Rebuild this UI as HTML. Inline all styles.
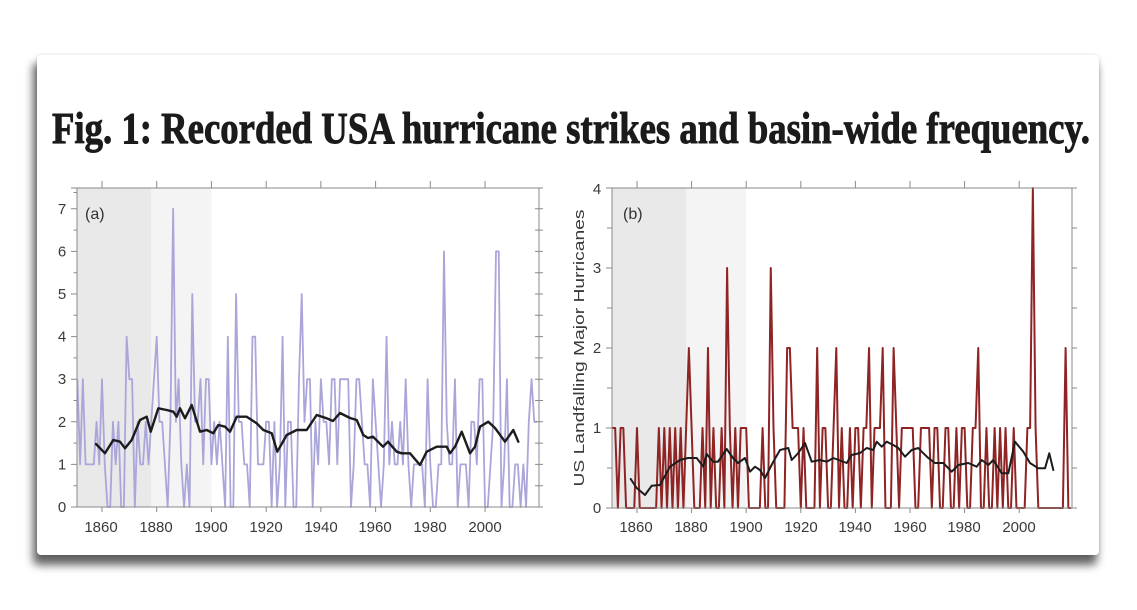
<!DOCTYPE html>
<html>
<head>
<meta charset="utf-8">
<style>
  html, body { margin:0; padding:0; background:#ffffff; }
  body { width:1137px; height:610px; position:relative; overflow:hidden; }
  .card {
    position:absolute; left:37px; top:55px; width:1062px; height:500px;
    background:#ffffff; border-radius:4px;
    box-shadow: -3px 9px 9px 1px rgba(0,0,0,0.62), 0 0 3px rgba(0,0,0,0.12);
  }
  svg { position:absolute; left:0; top:0; }
  text { font-family: "Liberation Sans", "DejaVu Sans", sans-serif; }
</style>
</head>
<body>
<div class="card"></div>
<svg width="1137" height="610" viewBox="0 0 1137 610" xmlns="http://www.w3.org/2000/svg">
  <!-- Title -->
  <text x="52" y="143" font-weight="bold" font-size="44" fill="#1b1b1b" stroke="#1b1b1b" stroke-width="0.9" textLength="1038" lengthAdjust="spacingAndGlyphs" style="font-family:'Liberation Serif', serif">Fig. 1: Recorded USA hurricane strikes and basin-wide frequency.</text>

  <!-- ================= PANEL A ================= -->
  <rect x="77" y="188" width="74" height="319" fill="#e9e9e9"/>
  <rect x="151" y="188" width="60.4" height="319" fill="#f4f4f4"/>

  <!-- purple series -->
  <g transform="translate(77.38,507) scale(2.736,-42.6)">
    <polyline fill="none" stroke="#aaa6da" stroke-width="1.8" vector-effect="non-scaling-stroke" stroke-linejoin="round"
      points="0,3 1,1 2,3 3,1 4,1 5,1 6,1 7,2 8,1 9,3
      10,1 11,0 12,0 13,2 14,1 15,2 16,0 17,0 18,4 19,3
      20,3 21,0 22,2 23,1 24,1 25,2 26,1 27,2 28,3 29,4
      30,2 31,2 32,1 33,0 34,2 35,7 36,2 37,3 38,1 39,0
      40,1 41,0 42,5 43,2 44,2 45,3 46,1 47,3 48,3 49,1
      50,2 51,1 52,2 53,1 54,0 55,4 56,0 57,0 58,5 59,2
      60,2 61,1 62,1 63,0 64,4 65,4 66,1 67,1 68,1 69,2
      70,2 71,0 72,2 73,0 74,1 75,4 76,0 77,2 78,2 79,0
      80,0 81,3 82,5 83,2 84,3 85,3 86,0 87,2 88,1 89,3
      90,2 91,2 92,1 93,3 94,3 95,1 96,3 97,3 98,3 99,3
      100,0 101,1 102,3 103,3 104,2 105,1 106,1 107,0 108,3 109,2
      110,1 111,0 112,1 113,4 114,1 115,2 116,1 117,1 118,2 119,1
      120,3 121,1 122,0 123,1 124,1 125,1 126,1 127,0 128,3 129,1
      130,0 131,0 132,1 133,1 134,6 135,2 136,1 137,1 138,3 139,0
      140,1 141,1 142,1 143,0 144,2 145,2 146,1 147,3 148,3 149,0
      150,0 151,1 152,2 153,6 154,6 155,0 156,1 157,3 158,0 159,0
      160,1 161,1 162,0 163,1 164,0 165,2 166,3 167,2 168,2"/>
  </g>

  <!-- black smoothed a -->
  <polyline fill="none" stroke="#1c1c1c" stroke-width="2.4" stroke-linejoin="round" stroke-linecap="round"
    points="96,444 105,453.3 113.3,440 120,441.7 125,448.3 131.7,440 140,420 146.7,416.7 150.7,431.7 158.3,408.3 166.7,410 173.3,411.7 176.7,416.7 180,408.3 185,418.3 191.7,405 200,431.7 206.7,430 213.3,433.3 218.3,425 225,426.7 230,431.7 236.7,416.7 246.7,416.7 256.7,423.3 263.3,430 271.7,433.3 277.3,451.7 286.7,435 296.7,430 306.7,430 316.7,415 326.7,418.3 333,421 340,413 350,418 356.7,420 363.3,435 368,438 373,436.7 383,446.7 388,441.7 396.7,451.7 401.7,453.3 410,453.3 420,465 426.7,451.7 436.7,446.7 446.7,446.7 450,453.3 455,446.7 461.7,431.7 470,453.3 475,446.7 480,426.7 488.3,421.7 495,428 505,441.7 513.3,430 518.3,441.7"/>

  <!-- frame a -->
  <g stroke="#8a8a8a" stroke-width="1" fill="none">
    <line x1="71" y1="188" x2="543" y2="188"/>
    <line x1="77" y1="188" x2="77" y2="507"/>
    <line x1="539" y1="188" x2="539" y2="507"/>
    <line x1="71" y1="507" x2="543" y2="507"/>
    <path d="M102,181V188 M156.7,181V188 M211.4,181V188 M266.2,181V188 M320.9,181V188 M375.6,181V188 M430.3,181V188 M485,181V188"/>
    <path d="M102,507V512 M156.7,507V512 M211.4,507V512 M266.2,507V512 M320.9,507V512 M375.6,507V512 M430.3,507V512 M485,507V512"/>
    <path d="M71,507H77 M71,464.4H77 M71,421.8H77 M71,379.2H77 M71,336.6H77 M71,294H77 M71,251.4H77 M71,208.8H77"/>
    <path d="M73.5,485.7H77 M73.5,443.1H77 M73.5,400.5H77 M73.5,357.9H77 M73.5,315.3H77 M73.5,272.7H77 M73.5,230.1H77 M73.5,192.5H77"/>
    <path d="M535,485.7H543 M535,464.4H543 M535,443.1H543 M535,421.8H543 M535,400.5H543 M535,379.2H543 M535,357.9H543 M535,336.6H543 M535,315.3H543 M535,294H543 M535,272.7H543 M535,251.4H543 M535,230.1H543 M535,208.8H543"/>
  </g>

  <g font-size="15" fill="#3a3a3a" text-anchor="middle">
    <text x="62" y="512">0</text>
    <text x="62" y="469.4">1</text>
    <text x="62" y="426.8">2</text>
    <text x="62" y="384.2">3</text>
    <text x="62" y="341.6">4</text>
    <text x="62" y="299">5</text>
    <text x="62" y="256.4">6</text>
    <text x="62" y="213.8">7</text>
  </g>
  <g font-size="15" fill="#3a3a3a" text-anchor="middle">
    <text x="101" y="532">1860</text>
    <text x="156" y="532">1880</text>
    <text x="211" y="532">1900</text>
    <text x="266" y="532">1920</text>
    <text x="321" y="532">1940</text>
    <text x="375" y="532">1960</text>
    <text x="430" y="532">1980</text>
    <text x="485" y="532">2000</text>
  </g>
  <text x="85" y="219" font-size="16" fill="#333">(a)</text>

  <!-- ================= PANEL B ================= -->
  <rect x="612" y="188" width="74" height="320" fill="#e9e9e9"/>
  <rect x="686" y="188" width="60.2" height="320" fill="#f4f4f4"/>

  <g transform="translate(612.43,508) scale(2.73,-80)">
    <polyline fill="none" stroke="#8e2424" stroke-width="2" vector-effect="non-scaling-stroke" stroke-linejoin="round"
      points="0,1 1,1 2,0 3,1 4,1 5,0 6,0 7,0 8,0 9,1
      10,0 11,0 12,0 13,0 14,0 15,0 16,0 17,1 18,0 19,1
      20,0 21,1 22,0 23,1 24,0 25,1 26,0 27,1 28,2 29,1
      30,0 31,0 32,0 33,1 34,0 35,2 36,0 37,1 38,0 39,0
      40,1 41,0 42,3 43,1 44,0 45,1 46,0 47,1 48,1 49,1
      50,0 51,0 52,0 53,0 54,0 55,1 56,0 57,0 58,3 59,1
      60,0 61,0 62,0 63,0 64,2 65,2 66,1 67,1 68,1 69,0
      70,1 71,0 72,0 73,0 74,0 75,2 76,0 77,1 78,1 79,0
      80,0 81,1 82,2 83,0 84,1 85,0 86,0 87,1 88,0 89,1
      90,1 91,0 92,1 93,1 94,2 95,0 96,1 97,1 98,1 99,2
      100,0 101,0 102,0 103,2 104,1 105,0 106,1 107,1 108,1 109,1
      110,1 111,0 112,0 113,1 114,1 115,1 116,1 117,0 118,1 119,1
      120,0 121,0 122,1 123,1 124,0 125,0 126,1 127,0 128,1 129,1
      130,0 131,0 132,1 133,1 134,2 135,0 136,0 137,1 138,0 139,0
      140,1 141,0 142,1 143,0 144,1 145,0 146,0 147,1 148,0 149,0
      150,0 151,0 152,1 153,1 154,4 155,1 156,0 157,0 158,0 159,0
      160,0 161,0 162,0 163,0 164,0 165,0 166,2 167,0 168,0"/>
  </g>

  <polyline fill="none" stroke="#1c1c1c" stroke-width="2" stroke-linejoin="round" stroke-linecap="round"
    points="630.7,479 636.7,488 645,495 651.7,485.7 660,485 670,466.7 680,460 688,458 696.7,458 703.3,466.7 706.7,454 713,461.7 718,461.7 726.7,449 733,458 738,463 745,458 750,471.7 755,466.7 760,470 765,478 773.3,461.7 780,450 788.3,448 791.7,460 798.3,453 805,443 811.7,461.7 820,460 826.7,461.7 833.3,458 846.7,463 851.7,455 860,453 866.7,448 873.3,450 876.7,441.7 881.7,446.7 886.7,441.7 893.3,445 898.3,448 905,456.7 911.7,450 918.3,448 921.7,451.7 928.3,458 935,463 943.3,463 951.7,471.7 958.3,465 968.3,463 976.7,466.7 981.7,460 988.3,465 993.3,460 1001.7,473.3 1008.3,473.3 1015,441.7 1023.3,451.7 1030,463 1038.3,468.3 1045,468.3 1049.3,453.3 1053.3,470"/>

  <g stroke="#8a8a8a" stroke-width="1" fill="none">
    <line x1="606" y1="188" x2="1077" y2="188"/>
    <line x1="612" y1="188" x2="612" y2="508"/>
    <line x1="1072" y1="188" x2="1072" y2="508"/>
    <line x1="606" y1="508" x2="1077" y2="508"/>
    <path d="M637,181V188 M691.6,181V188 M746.2,181V188 M800.8,181V188 M855.4,181V188 M910,181V188 M964.6,181V188 M1019.2,181V188"/>
    <path d="M637,508V513 M691.6,508V513 M746.2,508V513 M800.8,508V513 M855.4,508V513 M910,508V513 M964.6,508V513 M1019.2,508V513"/>
    <path d="M606,508H612 M606,428H612 M606,348H612 M606,268H612 M606,188H612"/>
    <path d="M607,468H612 M607,388H612 M607,308H612 M607,228H612"/>
    <path d="M1072,468H1077 M1072,428H1077 M1072,388H1077 M1072,348H1077 M1072,308H1077 M1072,268H1077 M1072,228H1077"/>
  </g>

  <g font-size="15" fill="#3a3a3a" text-anchor="middle">
    <text x="597" y="513">0</text>
    <text x="597" y="433">1</text>
    <text x="597" y="353">2</text>
    <text x="597" y="273">3</text>
    <text x="597" y="194">4</text>
  </g>
  <g font-size="15" fill="#3a3a3a" text-anchor="middle">
    <text x="636" y="532">1860</text>
    <text x="691" y="532">1880</text>
    <text x="746" y="532">1900</text>
    <text x="801" y="532">1920</text>
    <text x="855" y="532">1940</text>
    <text x="910" y="532">1960</text>
    <text x="964" y="532">1980</text>
    <text x="1019" y="532">2000</text>
  </g>
  <text x="623" y="219" font-size="16" fill="#333">(b)</text>
  <text transform="translate(584,348) rotate(-90)" x="0" y="0" font-size="15" fill="#3a3a3a" text-anchor="middle" textLength="277" lengthAdjust="spacingAndGlyphs">US Landfalling Major Hurricanes</text>
</svg>
</body>
</html>
